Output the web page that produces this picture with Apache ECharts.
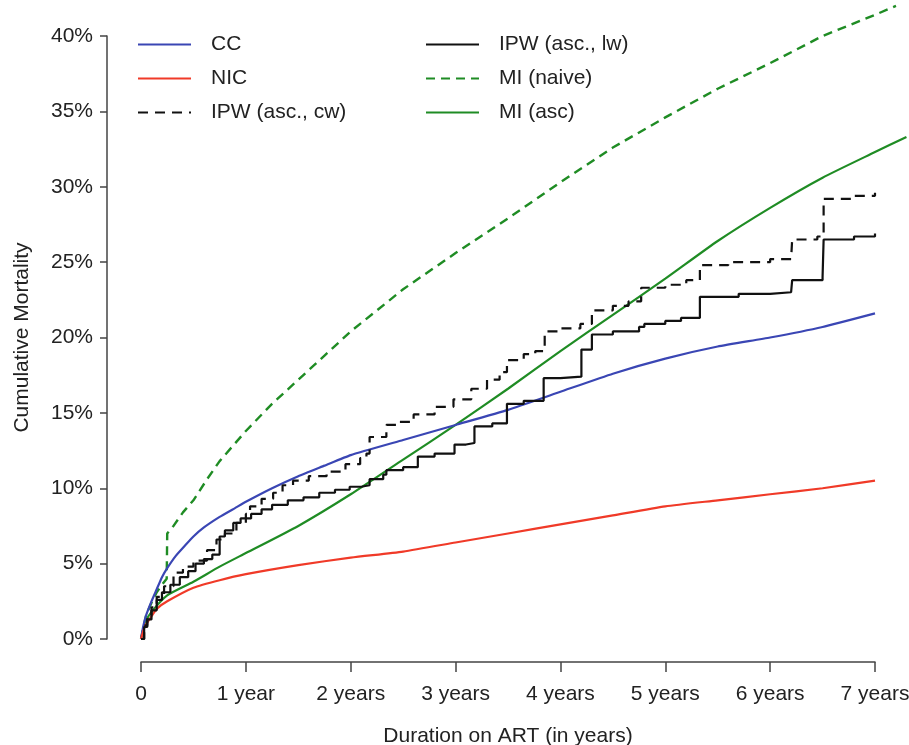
<!DOCTYPE html>
<html>
<head>
<meta charset="utf-8">
<script src="https://cdn.jsdelivr.net/npm/echarts@6/dist/echarts.min.js"></script>
<style>
  html, body { margin: 0; padding: 0; background: #fff; }
  #chart { width: 909px; height: 745px; }
</style>
</head>
<body>
<div id="chart"></div>
<script>
// tick labels
var xTickLabels = ['0', '1 year', '2 years', '3 years', '4 years', '5 years', '6 years', '7 years'];

// [years, cumulative mortality %]
var ccData = [[0,0],[0.02,0.8],[0.05,1.6],[0.1,2.5],[0.15,3.3],[0.2,4.1],[0.25,4.7],[0.33,5.5],[0.42,6.2],[0.5,6.8],
  [0.6,7.4],[0.75,8.1],[0.9,8.7],[1,9.1],[1.25,10.0],[1.5,10.8],[1.75,11.5],[2,12.2],[2.5,13.2],[3,14.2],
  [3.5,15.2],[4,16.4],[4.5,17.6],[5,18.6],[5.5,19.4],[6,20.0],[6.5,20.7],[7,21.6]];

var nicData = [[0,0],[0.03,0.7],[0.06,1.1],[0.1,1.5],[0.15,2.0],[0.25,2.5],[0.5,3.4],[0.75,3.9],[1,4.3],[1.5,4.9],
  [2,5.4],[2.5,5.8],[3,6.4],[3.5,7.0],[4,7.6],[4.5,8.2],[5,8.8],[5.5,9.2],[6,9.6],[6.5,10.0],[7,10.5]];

var ipwCwData = [[0,0],[0.03,0.9],[0.06,1.5],[0.1,2.1],[0.15,2.8],[0.22,3.5],[0.31,4.4],[0.4,4.8],[0.5,5.2],[0.63,5.9],
  [0.72,6.6],[0.8,7.0],[0.91,7.7],[1.0,8.3],[1.04,8.8],[1.15,9.3],[1.26,9.7],[1.35,10.2],[1.45,10.5],[1.6,10.8],
  [1.77,11.1],[1.95,11.6],[2.09,12.0],[2.15,12.3],[2.18,13.4],[2.34,14.2],[2.44,14.4],[2.6,14.9],[2.8,15.4],[2.98,15.9],
  [3.15,16.6],[3.3,17.2],[3.42,17.7],[3.49,18.5],[3.65,18.9],[3.76,19.1],[3.85,20.4],[4.0,20.6],[4.19,20.9],[4.30,21.8],
  [4.5,22.1],[4.65,22.4],[4.77,23.3],[5.0,23.5],[5.2,23.8],[5.33,24.8],[5.6,25.0],[6.0,25.2],[6.2,25.3],[6.21,26.5],
  [6.45,26.7],[6.51,29.2],[6.8,29.4],[7.0,29.6]];

var ipwLwData = [[0,0],[0.03,0.8],[0.06,1.3],[0.1,1.9],[0.15,2.6],[0.2,3.1],[0.28,3.6],[0.37,4.1],[0.45,4.5],[0.52,5.0],
  [0.6,5.3],[0.68,5.6],[0.75,6.8],[0.8,7.2],[0.88,7.7],[0.95,8.0],[1.05,8.3],[1.15,8.6],[1.25,8.9],[1.4,9.2],
  [1.55,9.4],[1.7,9.7],[1.85,9.9],[1.99,10.1],[2.1,10.2],[2.18,10.6],[2.31,10.9],[2.34,11.2],[2.5,11.4],[2.64,12.1],
  [2.8,12.3],[2.99,12.9],[3.1,13.0],[3.18,14.1],[3.35,14.3],[3.49,15.6],[3.65,15.8],[3.84,17.3],[4.0,17.4],[4.20,19.2],
  [4.30,20.2],[4.5,20.4],[4.75,20.7],[4.8,20.9],[5.0,21.1],[5.15,21.3],[5.33,22.7],[5.7,22.9],[6.0,23.0],[6.2,23.1],
  [6.21,23.8],[6.5,24.0],[6.51,26.5],[6.8,26.7],[7.0,26.9]];

var miNaiveData = [[0,0],[0.05,1.6],[0.1,2.4],[0.15,3.1],[0.2,3.6],[0.245,4.0],[0.25,7.0],[0.31,7.5],[0.4,8.4],[0.5,9.2],
  [0.63,10.6],[0.75,11.8],[1.0,13.8],[1.25,15.6],[1.5,17.2],[1.75,18.8],[2.0,20.4],[2.5,23.2],[3.0,25.6],[3.5,27.9],
  [4.0,30.3],[4.5,32.6],[5.0,34.6],[5.5,36.5],[6.0,38.2],[6.5,40.0],[7.0,41.4],[7.2,42.0]];

var miAscData = [[0,0],[0.05,1.2],[0.1,1.8],[0.25,2.9],[0.5,3.8],[0.75,4.8],[1,5.7],[1.5,7.5],[2,9.6],[2.5,11.9],
  [3,14.2],[3.5,16.6],[4,19.1],[4.5,21.5],[5,23.9],[5.5,26.4],[6,28.6],[6.5,30.6],[7,32.3],[7.3,33.3]];

var FONT = 'Liberation Sans';
var myChart = echarts.init(document.getElementById('chart'));

// curves run a little past 7 years / 40%, so data sit on their own (hidden) axes
var pxYear = (875 - 141) / 7;
var pxPct = (639 - 36) / 40;
var dataXMax = 7.3, dataYMax = 42;

function lineSeries(name, data, color, opts) {
  var s = {
    name: name,
    type: 'line',
    xAxisIndex: 1,
    yAxisIndex: 1,
    data: data,
    symbol: 'none',
    showSymbol: false,
    clip: false,
    lineStyle: { color: color, width: 2.2, type: 'solid' },
    itemStyle: { color: color }
  };
  for (var k in opts) s[k] = opts[k];
  return s;
}

var legendText = { fontFamily: FONT, fontSize: 21, color: '#222', padding: [0, 0, 0, 15] };

myChart.setOption({
  animation: false,
  backgroundColor: '#fff',
  grid: [
    { left: 141, right: 34, top: 36, bottom: 106, outerBoundsMode: 'none' },
    { left: 141, right: 909 - 141 - dataXMax * pxYear, top: 639 - dataYMax * pxPct, bottom: 106, outerBoundsMode: 'none' }
  ],
  legend: [
    {
      left: 137, top: 34, orient: 'vertical', padding: 0,
      itemWidth: 53, itemHeight: 20, itemGap: 13,
      itemStyle: { opacity: 0 },
      data: ['CC', 'NIC', 'IPW (asc., cw)'],
      textStyle: legendText
    },
    {
      left: 425, top: 34, orient: 'vertical', padding: 0,
      itemWidth: 53, itemHeight: 20, itemGap: 13,
      itemStyle: { opacity: 0 },
      data: ['IPW (asc., lw)', 'MI (naive)', 'MI (asc)'],
      textStyle: legendText
    }
  ],
  xAxis: [
    {
      type: 'value', gridIndex: 0,
      min: 0, max: 7, interval: 1,
      offset: 23,
      name: 'Duration on ART (in years)',
      nameLocation: 'middle',
      nameGap: 64,
      nameMoveOverlap: false,
      nameTextStyle: { fontFamily: FONT, fontSize: 21, color: '#222' },
      axisLine: { show: true, onZero: false, lineStyle: { color: '#444', width: 1.5 } },
      axisTick: { show: true, length: 10, lineStyle: { color: '#444', width: 1.5 } },
      axisLabel: {
        fontFamily: FONT, fontSize: 21, color: '#222', margin: 22,
        formatter: function (v) { return xTickLabels[Math.round(v)]; }
      },
      splitLine: { show: false }
    },
    { type: 'value', gridIndex: 1, min: 0, max: dataXMax, show: false }
  ],
  yAxis: [
    {
      type: 'value', gridIndex: 0,
      min: 0, max: 40, interval: 5,
      offset: 34,
      name: 'Cumulative Mortality',
      nameLocation: 'middle',
      nameGap: 74,
      nameMoveOverlap: false,
      nameTextStyle: { fontFamily: FONT, fontSize: 21, color: '#222' },
      axisLine: { show: true, onZero: false, lineStyle: { color: '#444', width: 1.5 } },
      axisTick: { show: true, length: 7, lineStyle: { color: '#444', width: 1.5 } },
      axisLabel: { fontFamily: FONT, fontSize: 21, color: '#222', margin: 14, formatter: '{value}%' },
      splitLine: { show: false }
    },
    { type: 'value', gridIndex: 1, min: 0, max: dataYMax, show: false }
  ],
  series: [
    lineSeries('CC', ccData, '#3a46b4', { smooth: 0.15, z: 3 }),
    lineSeries('NIC', nicData, '#f03a28', { smooth: 0.2, z: 3 }),
    lineSeries('IPW (asc., cw)', ipwCwData, '#111', { step: 'end', z: 4,
      lineStyle: { color: '#111', width: 2.2, type: [10, 7] } }),
    lineSeries('IPW (asc., lw)', ipwLwData, '#111', { step: 'end', z: 4 }),
    lineSeries('MI (naive)', miNaiveData, '#1f8c24', { z: 2,
      lineStyle: { color: '#1f8c24', width: 2.4, type: [9, 6] } }),
    lineSeries('MI (asc)', miAscData, '#1f8c24', { smooth: 0.2, z: 2 })
  ]
});
</script>
</body>
</html>
